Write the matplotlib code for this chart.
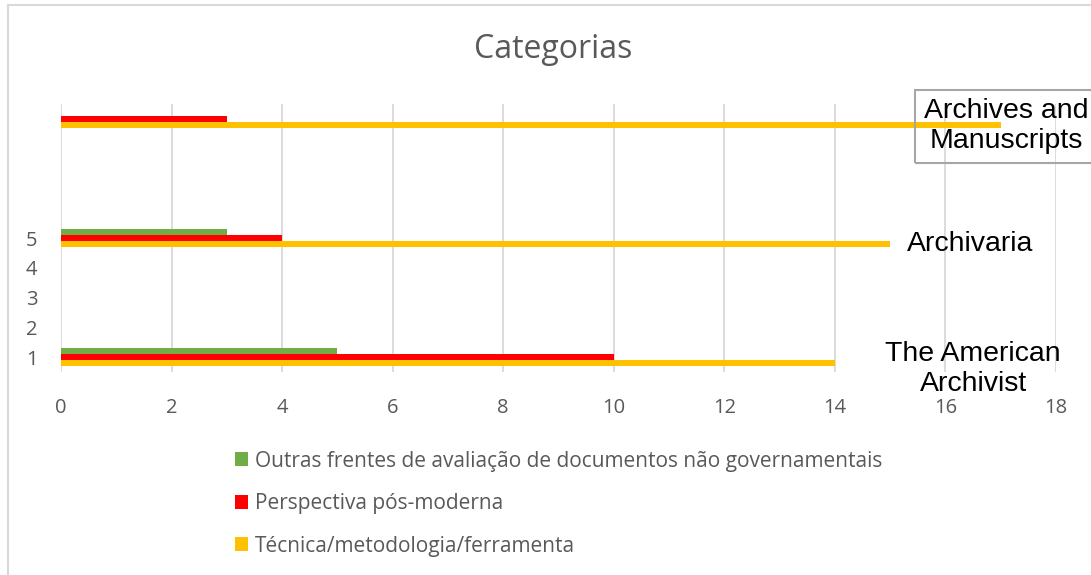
import matplotlib
matplotlib.use("Agg")

import matplotlib.pyplot as plt
from matplotlib.lines import Line2D
from matplotlib.patches import Patch

# ── Data ──────────────────────────────────────────────────────────────────────
journals = ["The American\nArchivist", "Archivaria", "Archives and\nManuscripts"]
group_pos = [1, 5, 9]
series_names = [
    "Outras frentes de avaliação de documentos não governamentais",
    "Perspectiva pós-moderna",
    "Técnica/metodologia/ferramenta",
]
outras = [5, 3, 0]
pos_moderna = [10, 4, 3]
tecnica = [14, 15, 17]
x_ticks = [0, 2, 4, 6, 8, 10, 12, 14, 16, 18]
y_ticks = [1, 2, 3, 4, 5]

colors = ["#70AD47", "#FF0000", "#FFC000"]
grey_text = "#595959"
bar_h = 0.21

fig = plt.figure(figsize=(10.91, 5.75), dpi=100)
ax = fig.add_axes([61 / 1091, 1 - 372 / 575, 995 / 1091, 268 / 575])

for i, vals in enumerate([outras, pos_moderna, tecnica]):
    offs = (1 - i) * bar_h
    ax.barh([p + offs for p in group_pos], vals, height=bar_h,
            color=colors[i], edgecolor="none", zorder=3)

ax.set_xlim(0, 18)
ax.set_ylim(0.5, 9.5)
ax.set_xticks(x_ticks)
ax.set_yticks(y_ticks)
ax.tick_params(length=0, labelsize=14.5, labelcolor=grey_text)
ax.tick_params(axis="x", pad=19)
ax.tick_params(axis="y", pad=17)
for lab in ax.get_xticklabels() + ax.get_yticklabels():
    lab.set_family("Open Sans")
ax.grid(axis="x", color="#D9D9D9", linewidth=1.3, zorder=0)
for s in ax.spines.values():
    s.set_visible(False)

# journal labels at the right of each group
label_x = [16.5, 16.45, 17.1]
label_y = [0.6, 4.8, 8.75]
for k, name in enumerate(journals):
    kw = dict(ha="center", va="center", fontsize=20.5, family="Liberation Sans",
              color="black", linespacing=1.2, zorder=5)
    if k == 2:
        kw["bbox"] = dict(boxstyle="square,pad=0.3", facecolor="none",
                          edgecolor="#A6A6A6", linewidth=1.5)
    ax.text(label_x[k], label_y[k], name, clip_on=False, **kw)

fig.text(553 / 1091, 1 - 50 / 575, "Categorias", ha="center", va="center",
         fontsize=23, color=grey_text, family="Open Sans")

handles = [Patch(facecolor=c, edgecolor="none") for c in colors]
leg = fig.legend(handles, series_names, loc="upper left",
                 bbox_to_anchor=(216 / 1091, 1 - 432 / 575), frameon=False,
                 handlelength=0.65, handleheight=0.65,
                 handletextpad=0.3, labelspacing=1.03,
                 prop={"family": "Open Sans", "size": 15})
for t in leg.get_texts():
    t.set_color(grey_text)

# outer chart border (left and top only visible)
fig.add_artist(Line2D([8 / 1091, 8 / 1091], [0, 1 - 5 / 575],
                      transform=fig.transFigure, color="#D9D9D9", linewidth=1.5))
fig.add_artist(Line2D([8 / 1091, 1], [1 - 5 / 575, 1 - 5 / 575],
                      transform=fig.transFigure, color="#D9D9D9", linewidth=1.5))

fig.savefig("out.png", dpi=100)
plt.close(fig)
